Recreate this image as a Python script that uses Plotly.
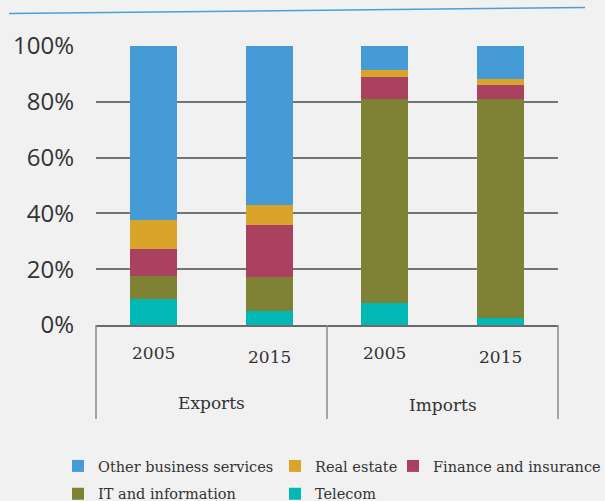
import plotly.graph_objects as go

groups = ["Exports", "Exports", "Imports", "Imports"]
years = ["2005", "2015", "2005", "2015"]
group_names = ["Exports", "Imports"]

telecom = [9.3, 5.0, 7.8, 2.6]
it_info = [8.3, 12.2, 73.2, 78.4]
finance = [9.6, 18.6, 7.9, 5.0]
real_estate = [10.4, 7.2, 2.6, 2.2]
other = [62.4, 57.0, 8.5, 11.8]

y_ticks = [0, 0.2, 0.4, 0.6, 0.8, 1.0]

# name, values, colour, legend box, rank within legend box
series = [
    ("Telecom", telecom, "#02b8b4", "legend2", 2),
    ("IT and information", it_info, "#7f8235", "legend", 2),
    ("Finance and insurance", finance, "#ab4160", "legend3", 1),
    ("Real estate", real_estate, "#d9a42a", "legend2", 1),
    ("Other business services", other, "#459bd6", "legend", 1),
]

serif = "DejaVu Serif"
text_col = "#333333"

fig = go.Figure()
for name, vals, col, leg, rank in series:
    fig.add_trace(go.Bar(
        x=[groups, years], y=[v / 100 for v in vals], name=name,
        marker=dict(color=col, line=dict(width=0)), width=0.41,
        legend=leg, legendgroup=name, legendrank=rank,
    ))

leg_common = dict(
    orientation="v", traceorder="grouped", tracegroupgap=6,
    xref="container", yref="container", xanchor="left", yanchor="top",
    y=0.1018, font=dict(family=serif, size=14.5, color=text_col),
    bgcolor="rgba(0,0,0,0)", borderwidth=0,
)

fig.update_layout(
    width=605, height=501,
    barmode="stack",
    paper_bgcolor="#f1f1f1", plot_bgcolor="#f1f1f1",
    margin=dict(l=96, r=47, t=46, b=176, autoexpand=False),
    font=dict(family=serif, color=text_col, size=14),
    xaxis=dict(
        type="multicategory", showticklabels=False, showdividers=False,
        showline=True, linecolor="#6a6a6a", linewidth=1.5,
        ticks="", showgrid=False,
    ),
    yaxis=dict(
        range=[0, 1], tickformat=".0%", tickvals=y_ticks,
        showgrid=True, gridcolor="#747474", gridwidth=1.5,
        zeroline=False, ticks="", ticklabelstandoff=21,
        tickfont=dict(family="Open Sans", size=24, color=text_col),
    ),
    legend=dict(leg_common, x=0.0959),
    legend2=dict(leg_common, x=0.4545),
    legend3=dict(leg_common, x=0.6496),
    showlegend=True,
)

# category labels (years) under each bar
n = len(years)
plot_h = 501 - 46 - 176
for i, yr in enumerate(years):
    py = 353 if yr == "2005" else 357
    fig.add_annotation(
        x=(i + 0.5) / n, y=(325 - py) / plot_h, xref="paper", yref="paper",
        text=yr, showarrow=False, xanchor="center", yanchor="middle",
        font=dict(family=serif, size=17, color=text_col),
    )

# group labels
ng = len(group_names)
for j, g in enumerate(group_names):
    py = 403 if j == 0 else 405
    fig.add_annotation(
        x=(j + 0.5) / ng, y=(325 - py) / plot_h, xref="paper", yref="paper",
        text=g, showarrow=False, xanchor="center", yanchor="middle",
        font=dict(family=serif, size=17, color=text_col),
    )

# group dividers
for k in range(ng + 1):
    fig.add_shape(type="line", xref="paper", yref="paper",
                  x0=k / ng, x1=k / ng, y0=0, y1=(325 - 419) / plot_h,
                  line=dict(color="#8a8a8a", width=1.5))

# decorative top rule
fig.add_shape(type="line", xref="paper", yref="paper",
              x0=(9 - 96) / 462, y0=(325 - 13.5) / plot_h,
              x1=(585 - 96) / 462, y1=(325 - 7.5) / plot_h,
              line=dict(color="#4a9fd8", width=1.5))

fig.write_html("out.html", config={"displayModeBar": False},
               post_script="document.body.style.margin='0';")
